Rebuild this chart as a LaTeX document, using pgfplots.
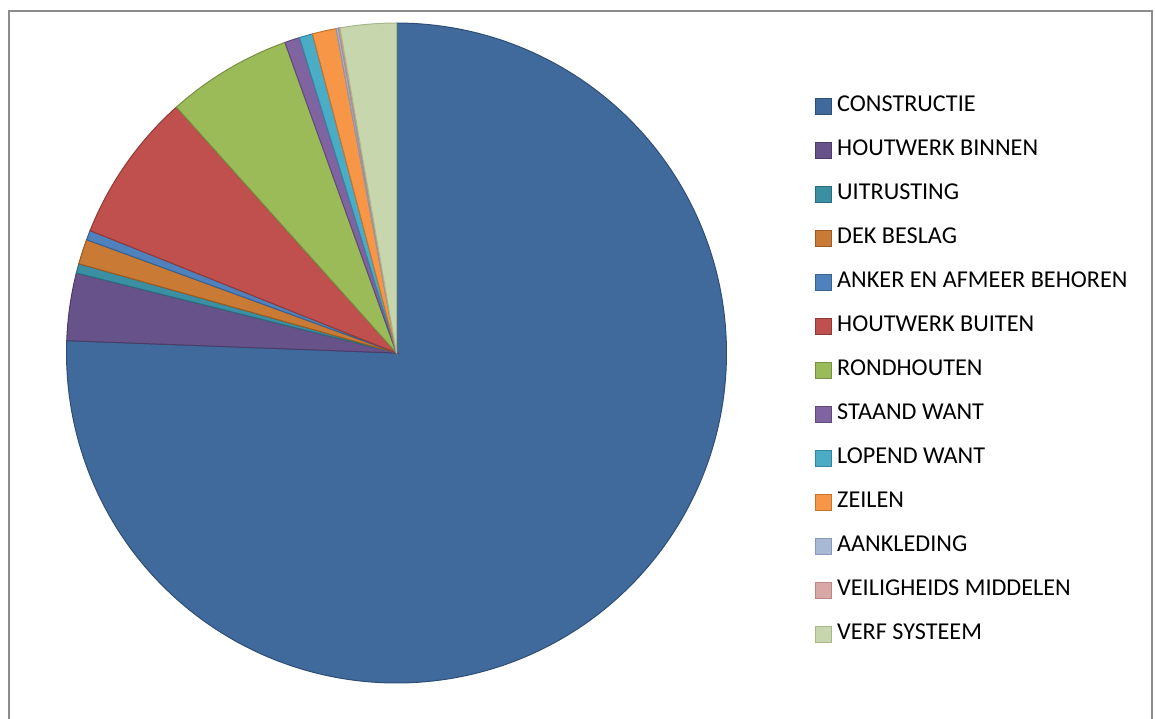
\documentclass[border=0pt]{standalone}
\usepackage{pgfplots}
\pgfplotsset{compat=1.18}
\usepackage{fontspec}
\setmainfont{Carlito}
\definecolor{c1}{HTML}{416A9C}\definecolor{d1}{HTML}{2E4E75}
\definecolor{c2}{HTML}{67528A}\definecolor{d2}{HTML}{4C3C68}
\definecolor{c3}{HTML}{3A8FA3}\definecolor{d3}{HTML}{2A6C7C}
\definecolor{c4}{HTML}{C97A34}\definecolor{d4}{HTML}{9A5A22}
\definecolor{c5}{HTML}{4F81BD}\definecolor{d5}{HTML}{3A6190}
\definecolor{c6}{HTML}{C0504D}\definecolor{d6}{HTML}{903A38}
\definecolor{c7}{HTML}{9BBB59}\definecolor{d7}{HTML}{768F42}
\definecolor{c8}{HTML}{8064A2}\definecolor{d8}{HTML}{5F4A7A}
\definecolor{c9}{HTML}{4BACC6}\definecolor{d9}{HTML}{3585A0}
\definecolor{c10}{HTML}{F79646}\definecolor{d10}{HTML}{C4742F}
\definecolor{c11}{HTML}{A8B9D6}\definecolor{d11}{HTML}{8799B8}
\definecolor{c12}{HTML}{D9A7A6}\definecolor{d12}{HTML}{B88786}
\definecolor{c13}{HTML}{C7D6AC}\definecolor{d13}{HTML}{A6B78A}
% slice values (percent of total)
\def\total{99.99}
\newcommand\pieslice[4]{% #1 index, #2 cumulative start, #3 value, #4 label
  \pgfmathsetmacro\degper{360/\total}%
  \pgfmathsetmacro\angA{90-(#2+#3)*\degper}%
  \pgfmathsetmacro\angB{90-(#2)*\degper}%
  \edef\doslice{\noexpand\addplot[fill=c#1, draw=d#1, line width=0.5pt, domain=\angA:\angB, samples=200]
    ({cos(x)},{sin(x)}) -- (axis cs:0,0) -- cycle;}%
  \doslice
  \addlegendentry{#4}%
}
\begin{document}
\begin{tikzpicture}
\useasboundingbox (0,0) rectangle (577.5pt,-359pt);
\draw[color=black!45, line width=0.7pt] (4.4pt,-5.4pt) rectangle (576pt,-370pt);
\begin{axis}[
  hide axis, scale only axis, width=330pt, height=330pt,
  xmin=-1, xmax=1, ymin=-1, ymax=1,
  at={(198.25pt,-176.5pt)}, anchor=center,
  clip=false,
  legend cell align=left,
  legend style={draw=none, fill=none, at={(1.1250,0.4734)}, anchor=west,
    font=\fontsize{12.1}{14}\selectfont, row sep=11.6pt,
    nodes={inner sep=0pt, text height=7.8pt, text depth=2.6pt}},
  legend image code/.code={\draw[#1, line width=0.5pt] (0pt,-3.8pt) rectangle (7.6pt,3.8pt);
    \path (10.4pt,0pt);},
]
\pieslice{1}{0}{75.59}{CONSTRUCTIE}
\pieslice{2}{75.59}{3.30}{HOUTWERK BINNEN}
\pieslice{3}{78.89}{0.46}{UITRUSTING}
\pieslice{4}{79.35}{1.22}{DEK BESLAG}
\pieslice{5}{80.57}{0.47}{ANKER EN AFMEER BEHOREN}
\pieslice{6}{81.04}{7.33}{HOUTWERK BUITEN}
\pieslice{7}{88.37}{6.13}{RONDHOUTEN}
\pieslice{8}{94.50}{0.74}{STAAND WANT}
\pieslice{9}{95.24}{0.65}{LOPEND WANT}
\pieslice{10}{95.89}{1.17}{ZEILEN}
\pieslice{11}{97.06}{0.11}{AANKLEDING}
\pieslice{12}{97.17}{0.08}{VEILIGHEIDS MIDDELEN}
\pieslice{13}{97.25}{2.74}{VERF SYSTEEM}
\end{axis}
\end{tikzpicture}
\end{document}
